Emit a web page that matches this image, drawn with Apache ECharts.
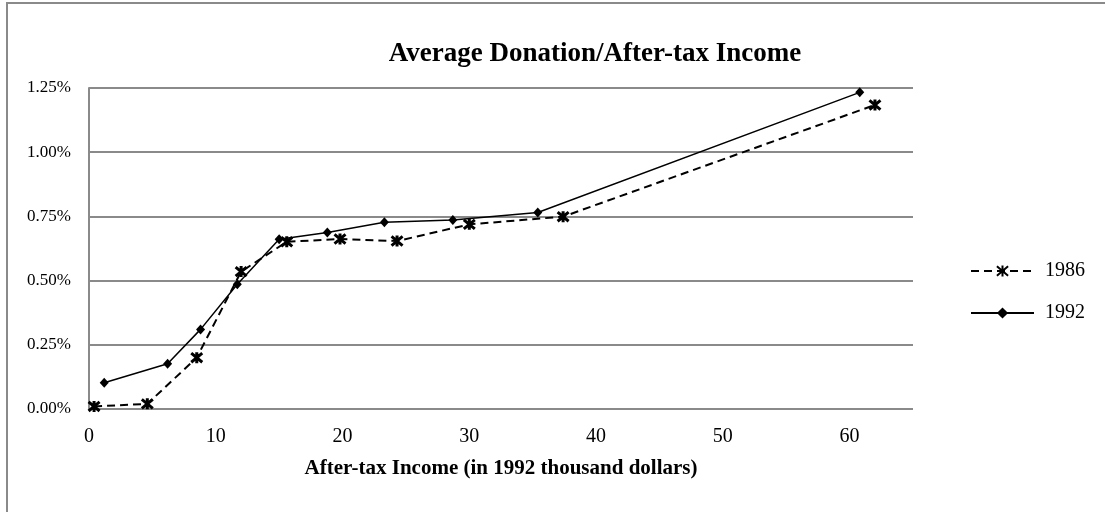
<!DOCTYPE html>
<html>
<head>
<meta charset="utf-8">
<script src="https://cdn.jsdelivr.net/npm/echarts@6/dist/echarts.min.js"></script>
<style>
  html, body { margin: 0; padding: 0; background: #fff; }
  #chart { width: 1105px; height: 512px; }
</style>
</head>
<body>
<div id="chart"></div>
<script>
// After-tax income (thousand 1992 dollars) and donation share (%) per income group
const income1986 = [0.4, 4.6, 8.5, 12.0, 15.6, 19.8, 24.3, 30.0, 37.4, 62.0];
const share1986  = [0.01, 0.02, 0.20, 0.535, 0.651, 0.662, 0.654, 0.719, 0.749, 1.184];
const income1992 = [1.2, 6.2, 8.8, 11.7, 15.0, 18.8, 23.3, 28.7, 35.4, 60.8];
const share1992  = [0.102, 0.176, 0.31, 0.486, 0.661, 0.687, 0.727, 0.736, 0.765, 1.233];
const seriesNames = ['1986', '1992'];
const yTicks = [0, 0.25, 0.5, 0.75, 1.0, 1.25];

const serif = '"Liberation Serif", "Times New Roman", serif';
const pairs = (xs, ys) => xs.map((x, i) => [x, ys[i]]);

// asterisk-style marker: an X crossed by a vertical stroke
const starPath = 'path://M0,0L10,10M10,0L0,10M5,-1L5,11';

const chart = echarts.init(document.getElementById('chart'), null, { renderer: 'canvas' });
chart.setOption({
  animation: false,
  backgroundColor: '#fff',
  graphic: [{
    type: 'rect',
    shape: { x: 7, y: 3, width: 1300, height: 800 },
    style: { fill: 'none', stroke: '#8a8a8a', lineWidth: 2 },
    silent: true
  }],
  title: {
    text: 'Average Donation/After-tax Income',
    left: 590, top: 36, textAlign: 'center',
    textStyle: { fontFamily: serif, fontWeight: 'bold', fontSize: 27, color: '#000' }
  },
  legend: {
    orient: 'vertical',
    left: 965, top: 256,
    itemWidth: 63, itemHeight: 14, itemGap: 22,
    data: seriesNames,
    textStyle: { fontFamily: serif, fontSize: 20, color: '#000', padding: [0, 0, 0, 6] }
  },
  grid: { left: 89, right: 192, top: 88, bottom: 103 },
  xAxis: {
    type: 'value', min: 0, max: 65, interval: 10,
    name: 'After-tax Income (in 1992 thousand dollars)',
    nameLocation: 'middle', nameGap: 49,
    nameTextStyle: { fontFamily: serif, fontWeight: 'bold', fontSize: 21, color: '#000' },
    axisLine: { show: false },
    axisTick: { show: false },
    splitLine: { show: false },
    axisLabel: {
      margin: 18, fontFamily: serif, fontSize: 20, color: '#000',
      formatter: v => (v % 10 === 0 ? String(v) : '')
    }
  },
  yAxis: {
    type: 'value', min: yTicks[0], max: yTicks[yTicks.length - 1], interval: 0.25,
    axisLine: { show: true, lineStyle: { color: '#8a8a8a', width: 2 } },
    axisTick: { show: false },
    splitLine: { show: true, lineStyle: { color: '#8a8a8a', width: 2 } },
    axisLabel: {
      margin: 18, fontFamily: serif, fontSize: 17, color: '#000',
      formatter: v => v.toFixed(2) + '%'
    }
  },
  series: [
    {
      name: seriesNames[0], type: 'line',
      data: pairs(income1986, share1986),
      symbol: starPath, symbolSize: 11,
      itemStyle: { color: '#000', borderColor: '#000', borderWidth: 3 },
      lineStyle: { color: '#000', width: 2, type: [8, 5] },
      z: 3
    },
    {
      name: seriesNames[1], type: 'line',
      data: pairs(income1992, share1992),
      symbol: 'diamond', symbolSize: [9, 10],
      itemStyle: { color: '#000', borderColor: '#000', borderWidth: 0 },
      lineStyle: { color: '#000', width: 1.5, type: 'solid' },
      z: 4
    }
  ]
});
</script>
</body>
</html>
